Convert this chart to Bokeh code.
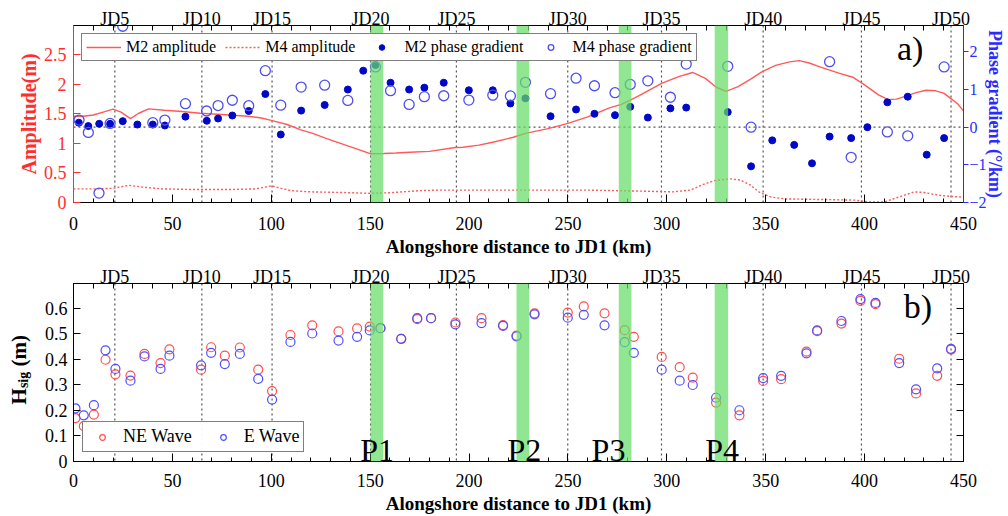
from bokeh.plotting import figure
from bokeh.models import (Range1d, LinearAxis, SingleIntervalTicker, FixedTicker, Span,
                          BoxAnnotation, Label, Div)
from bokeh.layouts import column, row
from bokeh.embed import file_html
from bokeh.resources import INLINE

FONT = "Liberation Serif"

# ---------------- data ----------------
jd_km = [20.9, 64.9, 100.4, 150.2, 193.6, 249.9, 297.3, 348.7, 398.4, 443.7]
jd_labels = ["JD5", "JD10", "JD15", "JD20", "JD25", "JD30", "JD35", "JD40", "JD45", "JD50"]

band_names = ["P1", "P2", "P3", "P4"]
band_left = [150.2, 224.0, 275.7, 324.2]
band_right = [156.6, 230.4, 282.1, 331.0]
band_label_km = [153.5, 228.0, 270.5, 328.0]

m2_amp_km = [0, 5, 10, 15, 20, 24, 28.8, 33, 38, 46, 55, 64, 75, 88, 95, 100, 108, 115, 121,
             128, 135, 142, 150, 157, 163, 170, 180, 193, 197, 205, 212, 222, 228.5, 240, 250,
             260, 271, 277, 282, 286, 297.6, 306, 313, 319.5, 325, 330, 336, 342, 348, 355,
             362, 367, 372, 377, 387, 394, 400, 407, 412, 416, 421, 426, 431, 436, 440, 444,
             447, 450]
m2_amp = [1.46, 1.46, 1.48, 1.53, 1.58, 1.53, 1.42, 1.51, 1.585, 1.56, 1.54, 1.51, 1.49, 1.46,
          1.43, 1.39, 1.32, 1.23, 1.17, 1.08, 1.00, 0.92, 0.826, 0.83, 0.837, 0.85, 0.865, 0.93,
          0.935, 0.97, 1.02, 1.10, 1.17, 1.25, 1.34, 1.45, 1.60, 1.66, 1.74, 1.81, 2.02, 2.13,
          2.20, 2.10, 1.95, 1.88, 1.96, 2.08, 2.21, 2.32, 2.38, 2.40, 2.36, 2.30, 2.19, 2.12,
          1.99, 1.82, 1.74, 1.75, 1.80, 1.86, 1.90, 1.89, 1.85, 1.75, 1.67, 1.55]

m4_amp_km = [0, 10, 20, 28, 35, 45, 60, 80, 92, 100, 105, 110, 120, 135, 150, 160, 175, 185,
             200, 230, 260, 275, 290, 303, 312, 318, 324, 332, 337, 342, 347, 353, 360, 380,
             395, 402, 410, 418, 425, 430, 438, 445, 450]
m4_amp = [0.23, 0.23, 0.24, 0.29, 0.26, 0.23, 0.22, 0.22, 0.23, 0.28, 0.24, 0.20, 0.18, 0.17,
          0.155, 0.165, 0.20, 0.21, 0.21, 0.21, 0.21, 0.20, 0.19, 0.18, 0.21, 0.30, 0.37, 0.40,
          0.38, 0.30, 0.17, 0.09, 0.06, 0.05, 0.04, 0.01, 0.01, 0.10, 0.18, 0.17, 0.12, 0.10,
          0.09]

m2_pg_km = [2.7, 7.5, 13, 18.5, 24.9, 32.3, 40.1, 46.2, 56.6, 67.4, 73.1, 80.3, 88.6, 97,
            104.8, 115.1, 127, 138.7, 146.5, 152.7, 160.3, 169.7, 177.4, 187.2, 199.9, 212,
            220.9, 228.5, 241.2, 254.1, 263.4, 273.8, 281.5, 290.4, 301.8, 309.8, 330.8, 342.6,
            353.3, 364.4, 373.4, 382.3, 393.2, 401.4, 411.5, 421.8, 431.4, 440.2]
m2_pg = [0.12, 0.03, 0.09, 0.09, 0.16, 0.07, 0.07, 0.045, 0.28, 0.17, 0.23, 0.31, 0.43, 0.88,
         -0.195, 0.44, 0.59, 1.0, 1.50, 1.65, 1.18, 1.0, 1.05, 1.18, 0.98, 0.98, 0.63, 0.765,
         0.29, 0.47, 0.355, 0.32, 0.54, 0.255, 0.50, 0.52, 0.40, -1.04, -0.35, -0.47, -0.96,
         -0.25, -0.29, 0.0, 0.66, 0.81, -0.73, -0.29]

m4_pg_km = [2.8, 7.5, 12.9, 18.5, 24.9, 40.1, 46.2, 56.6, 67.3, 73.1, 80.3, 88.6, 97, 104.8,
            115.1, 127, 138.7, 152.7, 160.3, 169.7, 177.4, 187.2, 199.9, 212, 220.9, 228.5,
            241.2, 254.1, 263.4, 273.8, 281.5, 290.4, 301.8, 309.8, 330.8, 342.6, 382.3, 393.2,
            411.5, 421.8, 440.2]
m4_pg = [0.19, -0.14, -1.75, 0.10, 2.68, 0.12, 0.19, 0.625, 0.43, 0.575, 0.715, 0.57, 1.50,
         0.585, 1.065, 1.115, 0.71, 1.60, 0.97, 0.605, 0.81, 0.835, 0.72, 0.85, 0.83, 1.19,
         0.89, 1.30, 1.10, 0.915, 1.135, 1.23, 0.795, 1.675, 1.615, 0.0, 1.74, -0.80, -0.125,
         -0.23, 1.60]

wave_km = [1.0, 5.2, 10.3, 16.2, 21.2, 28.8, 35.9, 44.0, 48.5, 64.5, 69.6, 76.5, 84.1, 93.4,
           100.4, 109.7, 120.7, 134.0, 143.4, 149.8, 155.2, 165.7, 173.8, 180.8, 193.1, 206.3,
           217.2, 224.0, 233.1, 249.9, 258.0, 268.5, 278.7, 283.3, 297.4, 306.5, 313.1, 324.9,
           336.7, 348.7, 357.8, 370.6, 376.0, 388.3, 397.9, 405.5, 417.5, 426.0, 436.7, 443.7]
ne_hsig = [0.17, 0.139, 0.184, 0.399, 0.342, 0.337, 0.422, 0.386, 0.44, 0.36,
           0.448, 0.415, 0.447, 0.36, 0.276, 0.496, 0.534, 0.51, 0.522, 0.529,
           0.523, 0.481, 0.558, 0.562, 0.545, 0.562, 0.535, 0.494, 0.581, 0.584,
           0.608, 0.581, 0.515, 0.489, 0.41, 0.37, 0.329, 0.231, 0.181, 0.316,
           0.323, 0.431, 0.511, 0.541, 0.63, 0.617, 0.403, 0.267, 0.336, 0.439]
e_hsig = [0.208, 0.181, 0.221, 0.436, 0.363, 0.317, 0.412, 0.363, 0.415, 0.377,
          0.426, 0.382, 0.422, 0.324, 0.243, 0.469, 0.502, 0.474, 0.489, 0.514,
          0.523, 0.481, 0.562, 0.562, 0.538, 0.543, 0.532, 0.491, 0.577, 0.564,
          0.575, 0.534, 0.468, 0.426, 0.36, 0.317, 0.300, 0.250, 0.201, 0.327,
          0.336, 0.424, 0.514, 0.551, 0.637, 0.622, 0.386, 0.283, 0.365, 0.442]

x_minor = list(range(0, 451, 10))
hsig_ticks = [0.1, 0.2, 0.3, 0.4, 0.5, 0.6]

# ---------------- styles ----------------
RED_AX = "#FF2E2E"
RED_LN = "#FF5A5A"
BLUE_AX = "#2B2BFF"
DBLUE = "#0008C8"
LBLUE = "#4F4FF0"
NE_C = "#FF4F4F"
E_C = "#4F4FFF"
GREEN = "#66DD66"
DOT = "#555555"
W = 1008
MB_L = 73
MB_R = 45
H1 = 259
H2 = 257
DIV_W = 38


def xaxes(p, standoff, label_standoff):
    ax = LinearAxis(ticker=SingleIntervalTicker(interval=50, num_minor_ticks=5),
                    axis_label="Alongshore distance to JD1 (km)",
                    major_tick_in=8, major_tick_out=0, minor_tick_in=4, minor_tick_out=0,
                    major_label_standoff=standoff, axis_label_standoff=label_standoff,
                    major_label_text_font=FONT, major_label_text_font_size="18px",
                    major_label_text_color="black", axis_label_text_color="black",
                    axis_label_text_font=FONT, axis_label_text_font_size="19px",
                    axis_label_text_font_style="bold", axis_line_color="black")
    p.add_layout(ax, "below")
    jd = LinearAxis(ticker=FixedTicker(ticks=jd_km, minor_ticks=x_minor),
                    major_label_overrides={k: s for k, s in zip(jd_km, jd_labels)},
                    major_tick_in=0, major_tick_out=0, minor_tick_in=5, minor_tick_out=0,
                    major_label_standoff=-3, axis_line_color="black",
                    major_label_text_color="black",
                    major_label_text_font=FONT, major_label_text_font_size="18px")
    p.add_layout(jd, "above")
    for x in jd_km:
        p.add_layout(Span(location=x, dimension="height", line_color=DOT, line_width=1.2,
                          line_dash="2 3", level="underlay"))


def bands(p):
    for l, r in zip(band_left, band_right):
        p.add_layout(BoxAnnotation(left=l, right=r, fill_color=GREEN, fill_alpha=0.72,
                                   line_color=None))


# ---------------- top panel ----------------
p1 = figure(width=W, height=H1, x_range=Range1d(0, 450), y_range=Range1d(0, 2.995),
            output_backend="svg", toolbar_location=None, x_axis_type=None, y_axis_type=None,
            min_border_left=MB_L, min_border_right=MB_R, min_border_top=25,
            min_border_bottom=56)
p1.extra_y_ranges = {"pg": Range1d(-2, 2.7)}
p1.outline_line_color = "black"
p1.background_fill_color = "white"
p1.border_fill_color = "white"
xaxes(p1, 14, 3)

yl = LinearAxis(ticker=SingleIntervalTicker(interval=0.5, num_minor_ticks=0),
                axis_label="Amplitude(m)", major_label_overrides={0: "0", 1: "1", 2: "2"},
                major_tick_in=7, major_tick_out=0, major_label_standoff=7,
                axis_label_standoff=1,
                axis_line_color=RED_AX, major_tick_line_color=RED_AX,
                major_label_text_color=RED_AX, axis_label_text_color=RED_AX,
                major_label_text_font=FONT, major_label_text_font_size="18px",
                axis_label_text_font=FONT, axis_label_text_font_size="20px",
                axis_label_text_font_style="bold")
p1.add_layout(yl, "left")
yr = LinearAxis(y_range_name="pg", ticker=SingleIntervalTicker(interval=1, num_minor_ticks=0),
                axis_label="Phase gradient (°/km)",
                major_tick_in=0, major_tick_out=5, major_label_standoff=1,
                axis_label_standoff=-5,
                axis_line_color=BLUE_AX, major_tick_line_color=BLUE_AX,
                major_label_text_color=BLUE_AX, axis_label_text_color=BLUE_AX,
                major_label_text_font=FONT, major_label_text_font_size="16px",
                axis_label_text_font=FONT, axis_label_text_font_size="18px",
                axis_label_text_font_style="bold")
p1.add_layout(yr, "right")

p1.add_layout(Span(location=0, dimension="width", y_range_name="pg", line_color=DOT,
                   line_width=1.2, line_dash="2 3", level="underlay"))

p1.line(m2_amp_km, m2_amp, line_color=RED_LN, line_width=1.4, legend_label="M2 amplitude")
p1.line(m4_amp_km, m4_amp, line_color=RED_LN, line_width=1.4, line_dash="2 2",
        legend_label="M4 amplitude")
p1.scatter(m2_pg_km, m2_pg, y_range_name="pg", size=7, fill_color=DBLUE, line_color=DBLUE,
           legend_label="M2 phase gradient")
p1.scatter(m4_pg_km, m4_pg, y_range_name="pg", size=10, fill_color=None, line_color=LBLUE,
           line_width=1.3, legend_label="M4 phase gradient")

lg = p1.legend[0]
lg.orientation = "horizontal"
lg.location = "top_left"
lg.margin = 8
lg.padding = 4
lg.spacing = 9
lg.glyph_width = 35
lg.glyph_height = 14
lg.label_standoff = 5
lg.label_height = 14
lg.label_text_font = FONT
lg.label_text_font_size = "16px"
lg.label_text_color = "black"
lg.border_line_color = "black"
lg.border_line_width = 1.2
lg.background_fill_alpha = 1.0

p1.add_layout(Label(x=423, y=2.61, text="a)", text_font=FONT, text_font_size="34px",
                    text_color="black", text_align="center", text_baseline="middle"))
bands(p1)

# ---------------- bottom panel ----------------
p2 = figure(width=W - DIV_W, height=H2, x_range=Range1d(0, 450), y_range=Range1d(0, 0.698),
            output_backend="svg", toolbar_location=None, x_axis_type=None, y_axis_type=None,
            min_border_left=MB_L - DIV_W, min_border_right=MB_R, min_border_top=24,
            min_border_bottom=55)
p2.outline_line_color = "black"
p2.background_fill_color = "white"
p2.border_fill_color = "white"
xaxes(p2, 12, 3)

yl2 = LinearAxis(ticker=SingleIntervalTicker(interval=0.1, num_minor_ticks=0),
                 major_label_overrides={0: "0"},
                 major_tick_in=7, major_tick_out=0, major_label_standoff=6,
                 axis_line_color="black", major_label_text_font=FONT,
                 major_label_text_color="black", major_label_text_font_size="18px")
p2.add_layout(yl2, "left")
yr2 = LinearAxis(ticker=FixedTicker(ticks=[], minor_ticks=hsig_ticks),
                 major_tick_in=0, major_tick_out=0, minor_tick_in=7, minor_tick_out=0,
                 axis_line_color="black")
p2.add_layout(yr2, "right")

p2.scatter(wave_km, ne_hsig, size=9, fill_color=None, line_color=NE_C, line_width=1.2,
           legend_label="NE Wave")
p2.scatter(wave_km, e_hsig, size=9, fill_color=None, line_color=E_C, line_width=1.2,
           legend_label="E Wave")

lg2 = p2.legend[0]
lg2.orientation = "horizontal"
lg2.location = "bottom_left"
lg2.margin = 9
lg2.padding = 4
lg2.spacing = 16
lg2.glyph_width = 30
lg2.glyph_height = 14
lg2.label_standoff = 6
lg2.label_height = 16
lg2.label_text_font = FONT
lg2.label_text_font_size = "18px"
lg2.label_text_color = "black"
lg2.border_line_color = "black"
lg2.border_line_width = 1.2

p2.add_layout(Label(x=427, y=0.609, text="b)", text_font=FONT, text_font_size="34px",
                    text_color="black", text_align="center", text_baseline="middle"))
bands(p2)
for name, xk in zip(band_names, band_label_km):
    p2.add_layout(Label(x=xk, y=0.045, text=name, text_font=FONT, text_font_size="32px",
                        text_color="black", text_align="center", text_baseline="alphabetic"))

ylab = Div(width=DIV_W, height=H2, margin=0, text=(
    '<div style="width:%dpx;height:%dpx;box-sizing:border-box;padding-bottom:36px;'
    'display:flex;align-items:center;justify-content:center;">'
    '<div style="writing-mode:vertical-rl;transform:rotate(180deg);color:black;'
    'font-family:\'Liberation Serif\';font-weight:bold;font-size:21px;white-space:nowrap;">'
    'H<sub style="font-size:14px;">sig</sub> (m)</div></div>') % (DIV_W, H2))

layout = column(p1, row(ylab, p2))
open("out.html", "w").write(file_html(layout, INLINE))
